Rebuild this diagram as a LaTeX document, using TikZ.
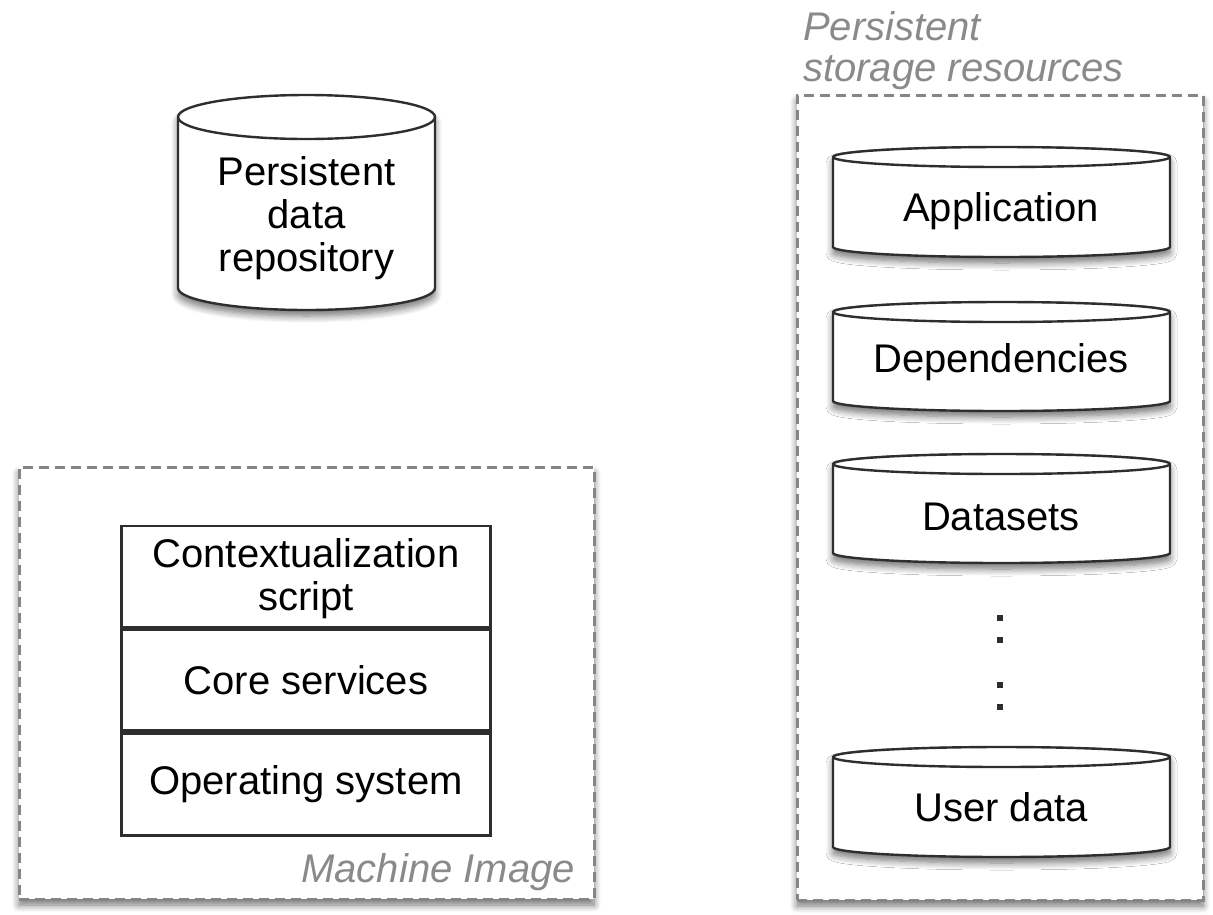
\documentclass[tikz,border=0pt]{standalone}
\usepackage{fontspec}
\setmainfont{Liberation Sans}
\usetikzlibrary{shadows.blur}

\definecolor{inkgrey}{HTML}{2E2E2E}
\definecolor{dashgrey}{HTML}{858585}
\definecolor{labelgrey}{HTML}{8A8A8A}

\tikzset{
  softshadow/.style={blur shadow={shadow xshift=0pt, shadow yshift=-6pt,
      shadow blur radius=7pt, shadow blur steps=8, shadow opacity=55}},
  groupbox/.style={draw=dashgrey, line width=3pt, dash pattern=on 10pt off 6pt,
      fill=white, softshadow, inner sep=0pt},
  layer/.style={draw=inkgrey, line width=2.6pt, fill=white, inner sep=0pt,
      minimum width=369pt, align=center},
  drumline/.style={draw=inkgrey, line width=2.4pt},
  body/.style={font=\fontsize{40}{43}\selectfont, align=center, text=black, inner sep=0pt},
  grouplabel/.style={font=\fontsize{40}{42}\selectfont\itshape, text=labelgrey, inner sep=0pt, align=left},
  dot/.style={fill=inkgrey, minimum size=6pt, inner sep=0pt},
}

% cylinder: centre x, top-rim y, bottom-rim y, half width, half rim height
\newcommand\drum[5]{%
  \path[drumline, fill=white, softshadow]
    (#1-#4,#2) -- (#1-#4,#3)
    arc[start angle=180, end angle=360, x radius=#4pt, y radius=#5pt]
    -- (#1+#4,#2)
    arc[start angle=0, end angle=180, x radius=#4pt, y radius=#5pt] -- cycle;
  \draw[drumline] (#1-#4,#2)
    arc[start angle=180, end angle=360, x radius=#4pt, y radius=#5pt];
}

\begin{document}
\begin{tikzpicture}[x=1pt, y=-1pt]
  \useasboundingbox (0,0) rectangle (1213,914);

  % repository cylinder
  \drum{306.5}{117}{288}{128.5}{22}
  \node[body] (repo) at (306.5,218) {Persistent\\data\\repository};

  % machine image group
  \node[groupbox, minimum width=575pt, minimum height=432pt] (machine) at (306.5,683) {};
  \node[grouplabel, anchor=base east] (machinelbl) at (575,882) {Machine Image};
  \node[layer, minimum height=101pt] (ctx) at (306,576.5) {};
  \node[layer, minimum height=101pt, anchor=north] (core) at (ctx.south) {};
  \node[layer, minimum height=102pt, anchor=north] (os) at (core.south) {};
  \node[body] (ctxtext) at ([yshift=-2pt]ctx.center) {Contextualization\\script};
  \node[body] (coretext) at (core.center) {Core services};
  \node[body] (ostext) at (os.center) {Operating system};

  % persistent storage group
  \node[groupbox, minimum width=406pt, minimum height=805pt] (storage) at (1000,497.5) {};
  \node[grouplabel, anchor=base west] (storagelbl1) at (803,40) {Persistent};
  \node[grouplabel, anchor=base west] (storagelbl2) at (803,81) {storage resources};

  \drum{1001.5}{157}{247}{168.5}{10}
  \node[body] (app) at (1001,211) {Application};
  \drum{1001.5}{312}{401}{168.5}{10}
  \node[body] (deps) at (1001,362) {Dependencies};
  \drum{1001.5}{464}{553}{168.5}{10}
  \node[body] (data) at (1001,517) {Datasets};
  \drum{1001.5}{757}{847}{168.5}{10}
  \node[body] (user) at (1001,807) {User data};

  \node[dot] (d1) at (1000,618) {};
  \node[dot] (d2) at (1000,640) {};
  \node[dot] (d3) at (1000,685) {};
  \node[dot] (d4) at (1000,707) {};
\end{tikzpicture}
\end{document}
